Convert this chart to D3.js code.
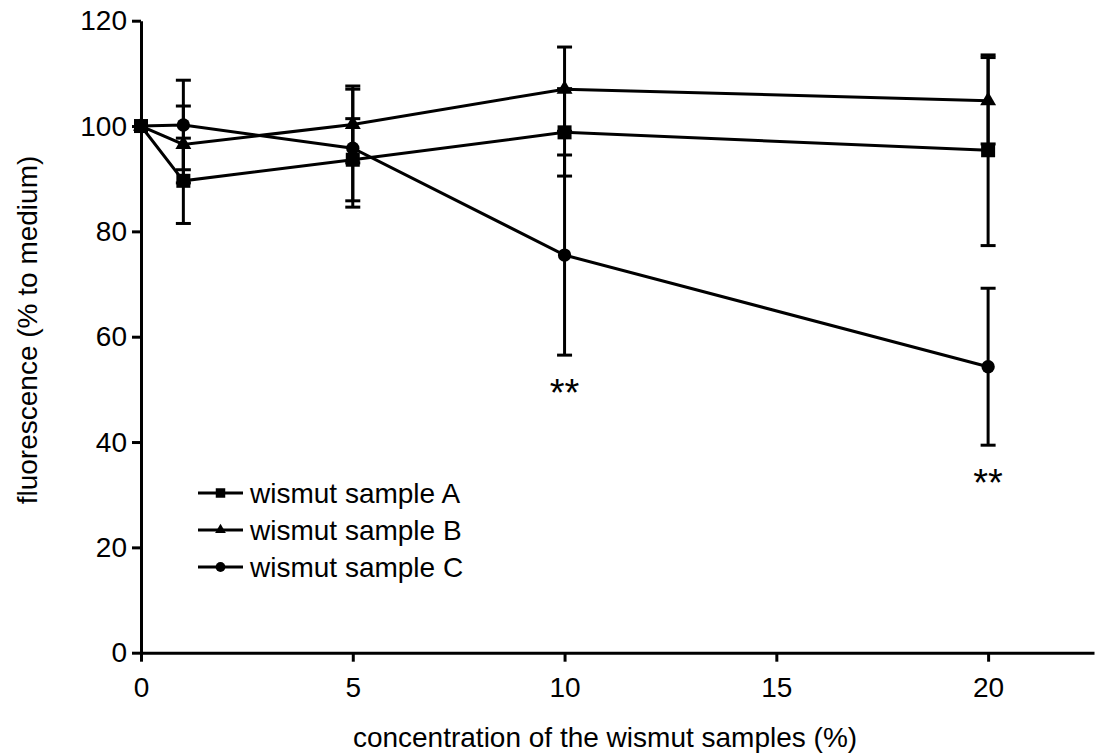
<!DOCTYPE html>
<html>
<head>
<meta charset="utf-8">
<script src="https://cdn.jsdelivr.net/npm/d3@7"></script>
<style>
  body { margin: 0; background: #fff; }
  svg { display: block; font-family: "Liberation Sans", Arial, sans-serif; }
  .axis path, .axis line { stroke: #000; stroke-width: 3; }
  .axis text { font-size: 28px; fill: #000; }
</style>
</head>
<body>
<div id="chart"></div>
<script>
// concentration of the wismut samples (%)
var concentrations = [0, 1, 5, 10, 20]
var xTicks = [0, 5, 10, 15, 20]
var yTicks = [0, 20, 40, 60, 80, 100, 120]

// fluorescence (% to medium), mean and error
var sampleA = [100, 89.6, 93.6, 98.8, 95.4]
var errA    = [0, 8.1, 7.8, 8.3, 18.1]
var sampleB = [100, 96.5, 100.3, 107.0, 104.8]
var errB    = [0, 7.3, 7.3, 8.0, 8.2]
var sampleC = [100, 100.2, 95.8, 75.5, 54.3]
var errC    = [0, 8.5, 11.2, 19.0, 14.9]

var seriesNames = ["wismut sample A", "wismut sample B", "wismut sample C"]
var seriesShapes = ["square", "triangle", "circle"]

// significance marks, placed under sample C's error bar
var sigX = [10, 20]
var sigText = ["**", "**"]

var width = 1097, height = 754

var svg = d3.select("#chart").append("svg")
  .attr("width", width).attr("height", height)

var x = d3.scaleLinear().domain([0, 22.5]).range([141, 1094])
var y = d3.scaleLinear().domain([0, 120]).range([652.7, 20.7])

var series = [
  {name: seriesNames[0], shape: seriesShapes[0], vals: sampleA, err: errA},
  {name: seriesNames[1], shape: seriesShapes[1], vals: sampleB, err: errB},
  {name: seriesNames[2], shape: seriesShapes[2], vals: sampleC, err: errC}
]

function symbolPath(shape, big) {
  if (shape == "square") return d3.symbol().type(d3.symbolSquare).size(big ? 196 : 90)()
  if (shape == "triangle") return d3.symbol().type(d3.symbolTriangle).size(big ? 110 : 50)()
  return d3.symbol().type(d3.symbolCircle).size(big ? 140 : 75)()
}

// axes
var xAxis = d3.axisBottom(x).tickValues(xTicks).tickSize(9).tickSizeOuter(0).tickPadding(15)
var yAxis = d3.axisLeft(y).tickValues(yTicks).tickSize(9).tickSizeOuter(0).tickPadding(5)

svg.append("g").attr("class", "axis")
  .attr("transform", "translate(0," + y(0) + ")")
  .call(xAxis)

svg.append("g").attr("class", "axis")
  .attr("transform", "translate(" + x(0) + ",0)")
  .call(yAxis)

// axis titles
svg.append("text")
  .attr("x", 605).attr("y", 747)
  .attr("text-anchor", "middle")
  .style("font-size", "28px")
  .text("concentration of the wismut samples (%)")

svg.append("text")
  .attr("transform", "translate(37," + 330 + ") rotate(-90)")
  .attr("text-anchor", "middle")
  .style("font-size", "28px")
  .text("fluorescence (% to medium)")

// series, drawn C first so A's squares sit on top
var line = d3.line()
  .x(function(d, i) { return x(concentrations[i]) })
  .y(function(d) { return y(d) })

series.slice().reverse().forEach(function(s) {
  var g = svg.append("g")

  // error bars
  s.vals.forEach(function(v, i) {
    if (!s.err[i]) return
    var cx = x(concentrations[i])
    var top = y(v + s.err[i]), bot = y(v - s.err[i])
    g.append("line").attr("x1", cx).attr("x2", cx).attr("y1", top).attr("y2", bot)
      .attr("stroke", "#000").attr("stroke-width", 3)
    ;[top, bot].forEach(function(yy) {
      g.append("line").attr("x1", cx - 7.5).attr("x2", cx + 7.5).attr("y1", yy).attr("y2", yy)
        .attr("stroke", "#000").attr("stroke-width", 3)
    })
  })

  g.append("path")
    .attr("d", line(s.vals))
    .attr("fill", "none").attr("stroke", "#000").attr("stroke-width", 3)

  g.selectAll("path.marker").data(s.vals).enter().append("path")
    .attr("class", "marker")
    .attr("d", symbolPath(s.shape, true))
    .attr("transform", function(d, i) { return "translate(" + x(concentrations[i]) + "," + y(d) + ")" })
    .attr("fill", "#000")
})

// significance stars
sigX.forEach(function(cx, k) {
  var i = concentrations.indexOf(cx)
  svg.append("text")
    .attr("x", x(cx)).attr("y", y(sampleC[i] - errC[i]) + 51)
    .attr("text-anchor", "middle")
    .style("font-size", "38px")
    .text(sigText[k])
})

// legend
var legend = svg.append("g").attr("transform", "translate(198,493)")
series.forEach(function(s, i) {
  var row = legend.append("g").attr("transform", "translate(0," + (i * 37) + ")")
  row.append("line").attr("x1", 0).attr("x2", 45).attr("y1", 0).attr("y2", 0)
    .attr("stroke", "#000").attr("stroke-width", 3)
  row.append("path").attr("d", symbolPath(s.shape, false))
    .attr("transform", "translate(22.5,0)").attr("fill", "#000")
  row.append("text").attr("x", 52).attr("y", 10)
    .style("font-size", "28px")
    .text(s.name)
})
</script>
</body>
</html>
